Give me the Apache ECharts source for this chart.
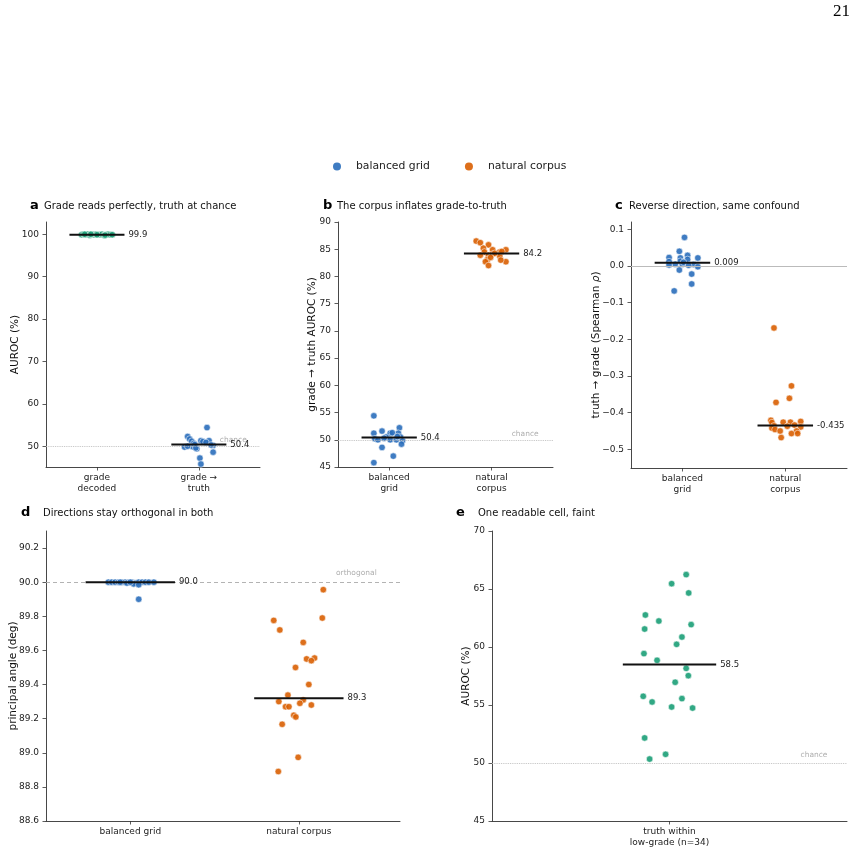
<!DOCTYPE html>
<html>
<head>
<meta charset="utf-8">
<script src="https://cdn.jsdelivr.net/npm/echarts@6/dist/echarts.min.js"></script>
<style>
  html, body { margin: 0; padding: 0; background: #fff; }
  #chart { width: 857px; height: 852px; }
</style>
</head>
<body>
<div id="chart"></div>
<script>
// ---- data ----
// panel a
const aCats = ['grade\ndecoded', 'grade →\ntruth'];
const aDecodedVals = [99.9, 100.0, 99.9, 100.0, 99.8, 100.0, 99.9, 100.0, 99.9, 99.9, 100.0, 99.8, 99.9, 100.0, 99.9, 99.9, 100.0, 99.9, 99.8, 100.0];
const aDecodedJit  = [-0.15, -0.13, -0.11, -0.09, -0.07, -0.05, -0.03, -0.01, 0.01, 0.03, 0.05, 0.07, 0.09, 0.11, 0.13, 0.15, -0.12, 0.0, 0.08, -0.06];
const aTruthVals = [54.4, 52.3, 51.7, 51.2, 51.3, 51.3, 50.7, 50.2, 49.9, 49.8, 49.4, 48.6, 47.2, 45.8, 51.1, 50.0, 50.4, 49.6, 50.9, 50.3];
const aTruthJit  = [0.08, -0.11, -0.09, -0.07, 0.02, 0.10, -0.05, 0.14, -0.06, -0.14, -0.02, 0.14, 0.01, 0.02, 0.04, -0.11, -0.04, -0.03, 0.07, 0.12];
const aMeans = [99.9, 50.4];
const aTicks = [50, 60, 70, 80, 90, 100];

// panel b
const bCats = ['balanced\ngrid', 'natural\ncorpus'];
const bGridVals = [54.4, 51.2, 51.6, 51.2, 52.2, 50.2, 50.0, 50.5, 50.0, 50.0, 51.2, 50.5, 49.8, 49.2, 48.6, 47.0, 45.8, 51.3, 50.6, 50.3];
const bGridJit  = [-0.15, -0.15, -0.07, 0.01, 0.10, -0.14, -0.11, -0.03, 0.01, 0.07, 0.09, 0.11, 0.13, 0.12, -0.07, 0.04, -0.15, 0.03, 0.08, -0.05];
const bCorpusVals = [86.5, 86.2, 85.8, 85.2, 84.9, 84.9, 84.5, 84.5, 83.9, 83.9, 84.1, 83.75, 83.1, 82.7, 82.7, 83.0, 82.0, 84.25, 84.6, 83.5];
const bCorpusJit  = [-0.15, -0.11, -0.03, -0.08, 0.01, 0.14, -0.07, 0.08, -0.11, -0.03, 0.01, 0.08, -0.04, -0.06, 0.14, 0.09, -0.03, 0.03, 0.10, -0.01];
const bMeans = [50.4, 84.2];
const bTicks = [45, 50, 55, 60, 65, 70, 75, 80, 85, 90];

// panel c
const cCats = ['balanced\ngrid', 'natural\ncorpus'];
const cGridVals = [0.078, 0.040, 0.029, 0.023, 0.022, 0.022, 0.018, 0.012, 0.013, 0.005, 0.003, 0.005, 0.004, -0.002, -0.011, -0.022, -0.049, -0.068, 0.010, 0.002];
const cGridJit  = [0.02, -0.03, 0.05, -0.13, -0.02, 0.15, 0.05, -0.13, -0.02, -0.07, -0.13, 0.0, 0.11, 0.15, -0.03, 0.09, 0.09, -0.08, 0.01, 0.06];
const cCorpusVals = [-0.169, -0.327, -0.361, -0.372, -0.421, -0.427, -0.426, -0.426, -0.424, -0.436, -0.437, -0.434, -0.442, -0.439, -0.446, -0.450, -0.450, -0.457, -0.457, -0.468];
const cCorpusJit  = [-0.11, 0.06, 0.04, -0.09, -0.14, -0.13, -0.02, 0.05, 0.15, -0.11, 0.02, 0.09, -0.13, 0.15, -0.10, -0.05, 0.11, 0.06, 0.12, -0.04];
const cMeans = [0.009, -0.435];
const cMeanLabels = ['0.009', '-0.435'];
const cTicks = [-0.5, -0.4, -0.3, -0.2, -0.1, 0.0, 0.1];

// panel d
const dCats = ['balanced grid', 'natural corpus'];
const dGridVals = [90.0, 90.0, 90.0, 90.0, 90.0, 90.0, 90.0, 90.0, 89.995, 90.0, 90.0, 89.99, 89.985, 89.90, 90.0, 90.0, 90.0, 89.995, 90.0, 90.0];
const dGridJit  = [-0.13, -0.11, -0.09, -0.07, -0.05, -0.03, -0.01, 0.01, 0.03, 0.05, 0.07, 0.02, 0.05, 0.05, 0.09, 0.11, 0.14, -0.02, 0.0, -0.06];
const dCorpusVals = [89.956, 89.776, 89.79, 89.72, 89.647, 89.55, 89.555, 89.54, 89.50, 89.40, 89.338, 89.30, 89.31, 89.29, 89.28, 89.27, 89.27, 89.22, 89.21, 89.167, 88.973, 88.89];
const dCorpusJit  = [0.145, -0.149, 0.139, -0.113, 0.026, 0.046, 0.093, 0.074, -0.02, 0.059, -0.065, -0.119, 0.026, 0.006, 0.074, -0.079, -0.059, -0.03, -0.018, -0.099, -0.004, -0.122];
const dMeans = [90.0, 89.32];
const dTicks = [88.6, 88.8, 89.0, 89.2, 89.4, 89.6, 89.8, 90.0, 90.2];

// panel e
const eCats = ['truth within\nlow-grade (n=34)'];
const eVals = [66.24, 65.46, 64.66, 62.76, 62.24, 61.93, 61.55, 60.86, 60.23, 59.43, 58.85, 58.16, 57.53, 56.96, 55.75, 55.55, 55.26, 54.83, 54.74, 52.16, 50.75, 50.34];
const eJit  = [0.047, 0.006, 0.054, -0.068, -0.03, 0.061, -0.07, 0.035, 0.02, -0.072, -0.035, 0.047, 0.053, 0.016, -0.074, 0.035, -0.049, 0.006, 0.065, -0.07, -0.011, -0.056];
const eMeans = [58.5];
const eTicks = [45, 50, 55, 60, 65, 70];

// ---- styling ----
const BLUE = '#2a6ebb', ORANGE = '#d95f02', TEAL = '#1b9e77';
const FONT = 'DejaVu Sans';
const AX = '#333';

const chart = echarts.init(document.getElementById('chart'), null, { renderer: 'canvas' });

const grids = [
    { left: 46, top: 222, width: 214, height: 245 },
    { left: 338, top: 222, width: 215, height: 245 },
    { left: 631, top: 222, width: 216, height: 246 },
    { left: 46, top: 531, width: 354, height: 290 },
    { left: 492, top: 531, width: 355, height: 290 }
];

const xAx = (gi, cats, min, max) => ({
    type: 'value', gridIndex: gi, min: min, max: max,
    axisLine: { show: true, onZero: false, lineStyle: { color: AX, width: 0.9 } },
    axisTick: { show: true, customValues: cats.map((_, i) => i), length: 3.5, lineStyle: { color: AX, width: 0.8 } },
    axisLabel: { customValues: cats.map((_, i) => i), formatter: v => cats[Math.round(v)], fontFamily: FONT, fontSize: 9, color: '#222', lineHeight: 11, margin: 5 },
    splitLine: { show: false }
});

const yAx = (gi, min, max, ticks, fmt, name, gap) => ({
    type: 'value', gridIndex: gi, min: min, max: max,
    axisLine: { show: true, onZero: false, lineStyle: { color: AX, width: 0.9 } },
    axisTick: { show: true, customValues: ticks, length: 3.5, lineStyle: { color: AX, width: 0.8 } },
    axisLabel: { customValues: ticks, formatter: fmt, fontFamily: FONT, fontSize: 9, color: '#222', margin: 7 },
    splitLine: { show: false },
    name: name, nameLocation: 'middle', nameGap: gap, nameMoveOverlap: false,
    nameTextStyle: { fontFamily: FONT, fontSize: 10.5, color: '#111', rich: { i: { fontFamily: FONT, fontSize: 10.5, fontStyle: 'italic', color: '#111' } } }
});

const strip = (gi, name, color, cat, vals, jit, ref) => {
    const s = {
        type: 'scatter', name: name, xAxisIndex: gi, yAxisIndex: gi,
        data: vals.map((v, i) => [cat + jit[i], v]),
        symbolSize: 6.5,
        itemStyle: { color: color, borderColor: 'rgba(255,255,255,0.85)', borderWidth: 0.7, opacity: 0.9 },
        z: 3, silent: true
    };
    if (ref) s.markLine = ref;
    return s;
};

const meanLine = (gi, cat, m, half, text) => ({
    type: 'line', xAxisIndex: gi, yAxisIndex: gi,
    data: [[cat - half, m], [cat + half, m]],
    symbol: 'none', silent: true, z: 5,
    lineStyle: { color: '#111', width: 2 },
    endLabel: { show: true, formatter: text, distance: 4, fontFamily: FONT, fontSize: 8.5, color: '#222' }
});

const refLine = (y, type, color, width) => ({
    silent: true, symbol: 'none', animation: false,
    label: { show: false },
    lineStyle: { color: color, type: type, width: width },
    data: [{ yAxis: y }]
});

const note = (gi, x, y, text, dy) => ({
    type: 'scatter', xAxisIndex: gi, yAxisIndex: gi, data: [[x, y]],
    symbolSize: 0, silent: true, z: 4,
    label: { show: true, position: 'left', distance: 0, offset: [0, dy], formatter: text, fontFamily: FONT, fontSize: 7.5, color: '#999' }
});

const f1 = v => v.toFixed(1);
const f0 = v => v.toFixed(0);
const fc = v => (Math.abs(v) < 1e-9 ? '0.0' : v.toFixed(1).replace('-', '\u2212'));

const titleText = (letter, text, lx, tx, y) => [
    { text: letter, left: lx, top: y - 8, padding: 0, textStyle: { fontFamily: FONT, fontSize: 13, fontWeight: 'bold', color: '#000' } },
    { text: text, left: tx, top: y - 6, padding: 0, textStyle: { fontFamily: FONT, fontSize: 10, fontWeight: 'normal', color: '#111' } }
];

const option = {
    animation: false,
    backgroundColor: '#fff',
    title: [].concat(
        titleText('a', 'Grade reads perfectly, truth at chance', 30, 44, 207),
        titleText('b', 'The corpus inflates grade-to-truth', 323, 337, 207),
        titleText('c', 'Reverse direction, same confound', 615, 629, 207),
        titleText('d', 'Directions stay orthogonal in both', 21, 43, 514),
        titleText('e', 'One readable cell, faint', 456, 478, 514)
    ),
    legend: {
        left: 328, top: 156, itemWidth: 28, itemHeight: 8, itemGap: 35,
        icon: 'circle', data: ['balanced grid', 'natural corpus'],
        itemStyle: { borderWidth: 0 },
        textStyle: { fontFamily: FONT, fontSize: 10.8, color: '#222' }
    },
    graphic: [
        { type: 'text', right: 7, top: 3, style: { text: '21', font: '17px "Liberation Serif"', fill: '#000' } }
    ],
    grid: grids,
    xAxis: [
        xAx(0, aCats, -0.5, 1.6),
        xAx(1, bCats, -0.5, 1.6),
        xAx(2, cCats, -0.5, 1.6),
        xAx(3, dCats, -0.5, 1.6),
        xAx(4, eCats, -0.5, 0.5)
    ],
    yAxis: [
        yAx(0, 45.1, 102.9, aTicks, f0, 'AUROC (%)', 25),
        yAx(1, 45, 90, bTicks, f0, 'grade → truth AUROC (%)', 20),
        yAx(2, -0.551, 0.12, cTicks, fc, 'truth → grade (Spearman {i|ρ})', 29.5),
        yAx(3, 88.6, 90.3, dTicks, f1, 'principal angle (deg)', 27.5),
        yAx(4, 45, 70, eTicks, f0, 'AUROC (%)', 20)
    ],
    series: [
        // a
        strip(0, 'decoded', TEAL, 0, aDecodedVals, aDecodedJit, refLine(50, 'dotted', '#bbb', 0.9)),
        strip(0, 'truth', BLUE, 1, aTruthVals, aTruthJit),
        meanLine(0, 0, aMeans[0], 0.27, f1(aMeans[0])),
        meanLine(0, 1, aMeans[1], 0.27, f1(aMeans[1])),
        note(0, 1.47, 50, 'chance', -6),
        // b
        strip(1, 'balanced grid', BLUE, 0, bGridVals, bGridJit, refLine(50, 'dotted', '#bbb', 0.9)),
        strip(1, 'natural corpus', ORANGE, 1, bCorpusVals, bCorpusJit),
        meanLine(1, 0, bMeans[0], 0.27, f1(bMeans[0])),
        meanLine(1, 1, bMeans[1], 0.27, f1(bMeans[1])),
        note(1, 1.46, 50, 'chance', -6),
        // c
        strip(2, 'balanced grid', BLUE, 0, cGridVals, cGridJit, refLine(0, 'solid', '#bbb', 1.2)),
        strip(2, 'natural corpus', ORANGE, 1, cCorpusVals, cCorpusJit),
        meanLine(2, 0, cMeans[0], 0.27, cMeanLabels[0]),
        meanLine(2, 1, cMeans[1], 0.27, cMeanLabels[1]),
        // d
        strip(3, 'balanced grid', BLUE, 0, dGridVals, dGridJit, refLine(90, [4, 3], '#aaa', 0.9)),
        strip(3, 'natural corpus', ORANGE, 1, dCorpusVals, dCorpusJit),
        meanLine(3, 0, dMeans[0], 0.265, f1(dMeans[0])),
        meanLine(3, 1, dMeans[1], 0.265, f1(dMeans[1])),
        note(3, 1.462, 90, 'orthogonal', -9),
        // e
        strip(4, 'cell', TEAL, 0, eVals, eJit, refLine(50, 'dotted', '#bbb', 0.9)),
        meanLine(4, 0, eMeans[0], 0.1315, f1(eMeans[0])),
        note(4, 0.445, 50, 'chance', -8)
    ]
};

chart.setOption(option);
</script>
</body>
</html>
